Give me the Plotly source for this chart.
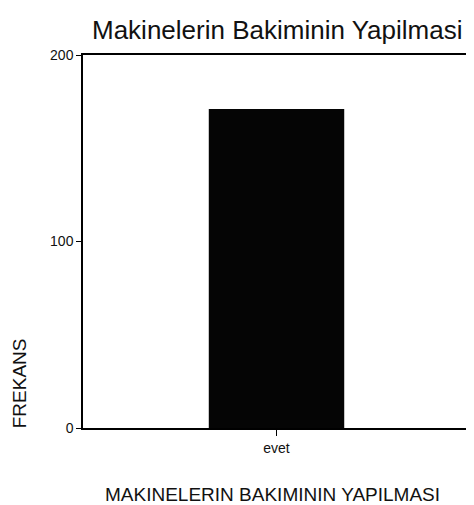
import plotly.graph_objects as go

categories = ['evet']
frekans = [171]
y_ticks = [0, 100, 200]

FONT = 'Liberation Sans, Arial, sans-serif'

fig = go.Figure(go.Bar(
    x=categories, y=frekans,
    width=0.35,
    marker=dict(color='#050505', line=dict(width=0)),
))

# the page body keeps its 8px default margin, so the figure is a bit smaller
fig.update_layout(
    width=466, height=497,
    margin=dict(l=75, r=2, t=47, b=77),
    plot_bgcolor='white', paper_bgcolor='white',
    showlegend=False,
    font=dict(family=FONT, color='#111'),
    annotations=[
        dict(text='Makinelerin Bakiminin Yapilmasi', x=0.5, y=1, xref='paper', yref='paper',
             xanchor='center', yanchor='middle', yshift=25, showarrow=False,
             font=dict(size=26, family=FONT, color='#111')),
        dict(text='MAKINELERIN BAKIMININ YAPILMASI', x=0.49, y=0, xref='paper', yref='paper',
             xanchor='center', yanchor='middle', yshift=-66, showarrow=False,
             font=dict(size=19, family=FONT, color='#111')),
        dict(text='FREKANS', x=0, y=0.12, xref='paper', yref='paper', textangle=-90,
             xanchor='center', yanchor='middle', xshift=-64, showarrow=False,
             font=dict(size=19, family=FONT, color='#111')),
    ],
)

fig.update_xaxes(
    range=[-0.5, 0.5], showline=True, linecolor='black', linewidth=1.5, mirror=True,
    ticks='outside', ticklen=6, tickcolor='black',
    tickfont=dict(size=14, family=FONT), showgrid=False,
)
fig.update_yaxes(
    range=[0, 200], tickvals=y_ticks, showline=True, linecolor='black', linewidth=1.5,
    mirror=True, ticks='outside', ticklen=5, tickcolor='black',
    tickfont=dict(size=14, family=FONT), showgrid=False, zeroline=False,
)

fig.write_html("out.html")
